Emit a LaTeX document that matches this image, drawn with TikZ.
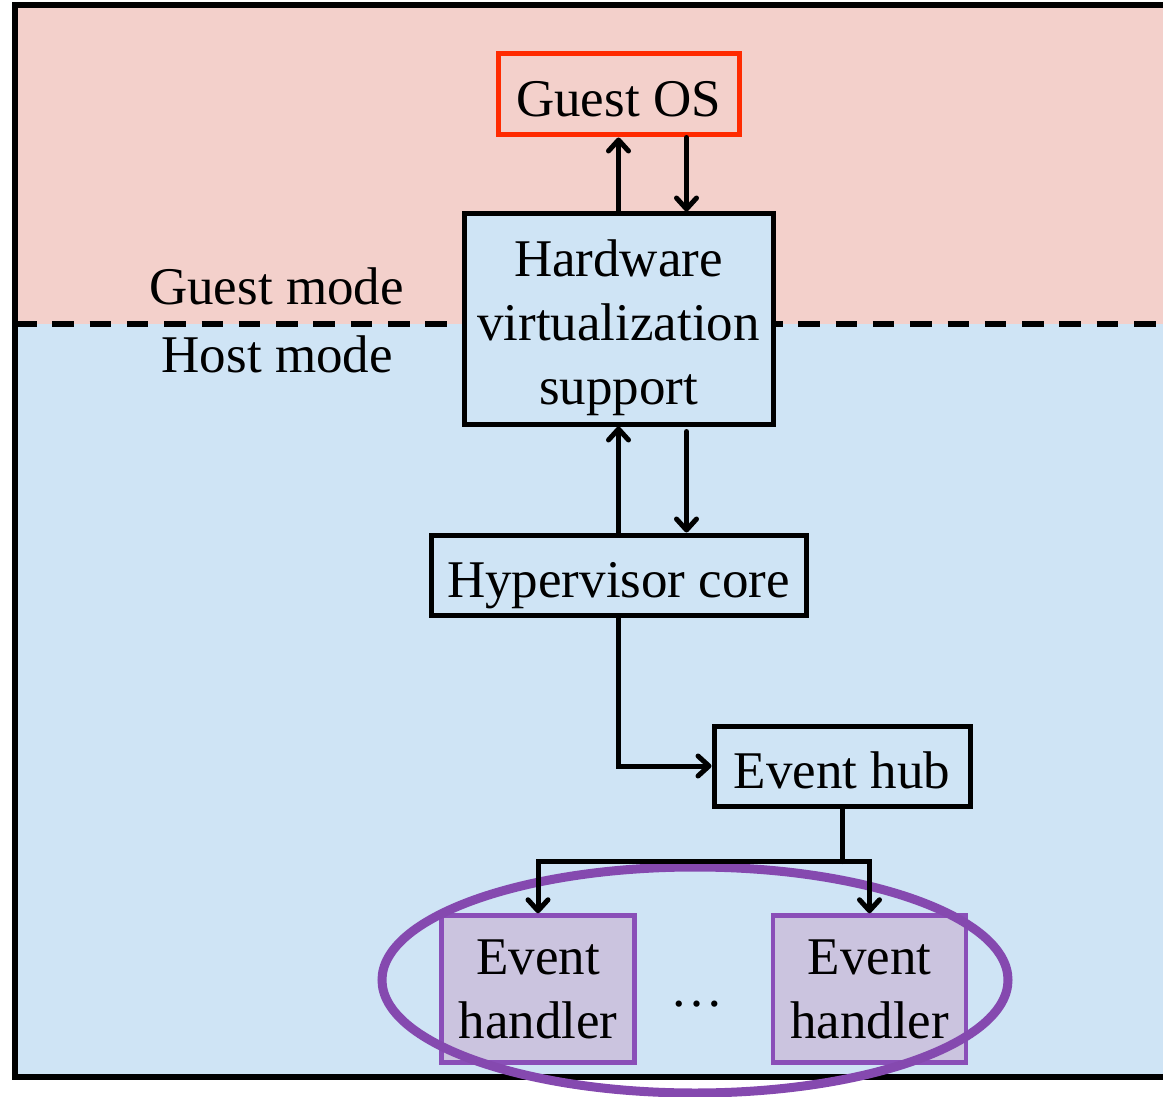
\documentclass[tikz,border=0pt]{standalone}
\usepackage{fontspec}
\setmainfont{Liberation Serif}
\usetikzlibrary{arrows.meta,shapes.geometric}

\definecolor{guestbg}{HTML}{F3D0CB}
\definecolor{hostbg}{HTML}{CFE4F5}
\definecolor{osred}{HTML}{FF2A00}
\definecolor{handlerfill}{HTML}{CBC4DF}
\definecolor{handlerline}{HTML}{8A4FB8}
\definecolor{groupline}{HTML}{8549AF}

\tikzset{
  lbl/.style={font=\fontsize{53}{64}\selectfont, inner sep=0pt},
  box/.style={draw, line width=5pt, fill=hostbg, inner sep=0pt,
    font=\fontsize{53}{64}\selectfont, align=center},
  onebox/.style={box, text height=44pt, text depth=0pt},
  osbox/.style={onebox, draw=osred, fill=guestbg},
  handlerbox/.style={box, draw=handlerline, line width=4.5pt, fill=handlerfill,
    minimum width=193pt, minimum height=147pt},
  arr/.style={line width=5pt, line cap=round,
    -{Straight Barb[length=11pt,width=20pt,line cap=round,line join=round]}},
  link/.style={line width=5pt, line cap=round}
}

\begin{document}
\begin{tikzpicture}[x=1pt,y=-1pt]
\useasboundingbox (0,0) rectangle (1163,1097);
\clip (0,0) rectangle (1163,1097);

% mode regions
\fill[guestbg] (15,5) rectangle (1170,324);
\fill[hostbg] (15,324) rectangle (1170,1077);
\draw[line width=5.5pt, dash pattern=on 21.5pt off 15.8pt] (15,324) -- (1170,324);
\draw[line width=5.5pt] (15,5) rectangle (1170,1077);

\node[lbl, anchor=base east] (guestmode) at (404,304) {Guest mode};
\node[lbl, anchor=base east] (hostmode) at (393,372) {Host mode};

% components
\node[osbox, minimum width=241pt, minimum height=81pt] (guest) at (618.5,94.5) {Guest OS};
\node[box, minimum width=309pt, minimum height=210pt] (hw) at (618.5,319)
  {\rule{0pt}{54pt}Hardware\\ virtualization\\ support};
\node[onebox, minimum width=375pt, minimum height=80pt] (hyp) at (618.5,575) {Hypervisor core};
\node[onebox, minimum width=256pt, minimum height=80pt] (hub) at (842,766) {Event hub};

\node[handlerbox] (h1) at (538,989) {Event\\ handler};
\node[handlerbox] (h2) at (869.5,989) {Event\\ handler};
\node[lbl] (dots) at (697,1004) {…};

\node[draw=groupline, line width=9pt, ellipse, inner sep=0pt,
  minimum width=626pt, minimum height=226pt] (group) at (695,980) {};

% connectors
\draw[arr] (hw.north) -- (guest.south);
\draw[arr] ([xshift=68pt]guest.south) -- ([xshift=68pt]hw.north);
\draw[arr] (hyp.north) -- (hw.south);
\draw[arr] ([xshift=68pt,yshift=-5pt]hw.south) -- ([xshift=68pt]hyp.north);
\draw[arr] (hyp.south) |- (hub.west);
\draw[link] (hub.south) -- ++(0,53) coordinate (fork);
\draw[arr] (fork) -| (h1.north);
\draw[arr] (fork) -| (h2.north);
\end{tikzpicture}
\end{document}
